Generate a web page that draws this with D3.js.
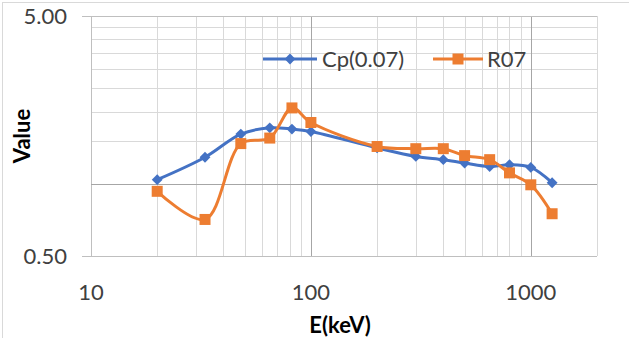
<!DOCTYPE html>
<html>
<head>
<meta charset="utf-8">
<script src="https://cdn.jsdelivr.net/npm/d3@7"></script>
<style>
    body { margin: 0; background: #fff; }
    text { font-family: Lato, "Open Sans", sans-serif; fill: #404040; }
    .title { font-weight: bold; fill: #000; }
</style>
</head>
<body>
<div id="chart"></div>
<script>
// chart values
const energies = [20, 33, 48, 65, 82, 100, 200, 300, 400, 500, 650, 800, 1000, 1250];
const cpValues = [1.04, 1.29, 1.61, 1.71, 1.69, 1.65, 1.41, 1.30, 1.26, 1.22, 1.18, 1.20, 1.17, 1.01];
const r07Values = [0.93, 0.71, 1.47, 1.55, 2.07, 1.80, 1.43, 1.40, 1.40, 1.31, 1.26, 1.11, 0.99, 0.75];
const seriesNames = ["Cp(0.07)", "R07"];
const xTicks = [10, 100, 1000];
const yTicks = [0.5, 5];
const yTickLabels = ["0.50", "5.00"];

const width = 629, height = 338;
const margin = {top: 16, right: 32, bottom: 82, left: 91};

const svg = d3.select("#chart").append("svg")
    .attr("width", width)
    .attr("height", height);

// outer chart border
svg.append("rect")
    .attr("x", 2.5).attr("y", 2.5)
    .attr("width", width + 10).attr("height", height + 10)
    .attr("fill", "none")
    .attr("stroke", "#d9d9d9");

const x = d3.scaleLog().domain([10, 2000]).range([margin.left, width - margin.right]);
const y = d3.scaleLog().domain([0.5, 5]).range([height - margin.bottom, margin.top]);

// minor gridlines, log style (2..9 in every decade)
let xMinor = [];
xTicks.forEach(t => { for (let k = 2; k <= 9; k++) if (t * k <= 2000) xMinor.push(t * k); });
let yMinor = [];
for (let k = 2; k <= 9; k++) yMinor.push(0.5 * k);

const grid = svg.append("g");

grid.selectAll(".xminor").data(xMinor).enter().append("line")
    .attr("x1", d => Math.round(x(d)) + 0.5).attr("x2", d => Math.round(x(d)) + 0.5)
    .attr("y1", y(5)).attr("y2", y(0.5))
    .attr("stroke", "#d9d9d9");

grid.selectAll(".yminor").data(yMinor).enter().append("line")
    .attr("x1", x(10)).attr("x2", x(2000))
    .attr("y1", d => Math.round(y(d)) + 0.5).attr("y2", d => Math.round(y(d)) + 0.5)
    .attr("stroke", "#d9d9d9");

// major lines
grid.selectAll(".xmajor").data(xTicks).enter().append("line")
    .attr("x1", d => Math.round(x(d)) + 0.5).attr("x2", d => Math.round(x(d)) + 0.5)
    .attr("y1", y(5)).attr("y2", y(0.5))
    .attr("stroke", d => d === 10 ? "#bfbfbf" : "#a6a6a6");

grid.selectAll(".ymajor").data(yTicks).enter().append("line")
    .attr("x1", x(10) - 9).attr("x2", x(2000))
    .attr("y1", d => Math.round(y(d)) + 0.5).attr("y2", d => Math.round(y(d)) + 0.5)
    .attr("stroke", "#bfbfbf");

// horizontal axis crosses at 1
grid.append("line")
    .attr("x1", x(10)).attr("x2", x(2000))
    .attr("y1", Math.round(y(1)) + 0.5).attr("y2", Math.round(y(1)) + 0.5)
    .attr("stroke", "#a6a6a6");

// tick labels
svg.selectAll(".xlab").data(xTicks).enter().append("text")
    .attr("x", d => x(d))
    .attr("y", 300)
    .attr("text-anchor", "middle")
    .style("font-size", "22px")
    .text(d => d);

svg.selectAll(".ylab").data(yTicks).enter().append("text")
    .attr("x", 67)
    .attr("y", d => y(d))
    .attr("dy", "0.35em")
    .attr("text-anchor", "end")
    .style("font-size", "22px")
    .text((d, i) => yTickLabels[i]);

// axis titles
svg.append("text")
    .attr("class", "title")
    .attr("x", 340).attr("y", 333)
    .attr("text-anchor", "middle")
    .style("font-size", "22px")
    .text("E(keV)");

svg.append("text")
    .attr("class", "title")
    .attr("transform", "translate(30,136) rotate(-90)")
    .attr("text-anchor", "middle")
    .style("font-size", "22px")
    .text("Value");

// series
const series = [
    {name: seriesNames[0], values: cpValues, color: "#4472c4", symbol: d3.symbolDiamond2, size: 75},
    {name: seriesNames[1], values: r07Values, color: "#ed7d31", symbol: d3.symbolSquare, size: 121}
];

const line = d3.line()
    .x(d => x(d[0]))
    .y(d => y(d[1]))
    .curve(d3.curveCatmullRom.alpha(0.5));

series.forEach(s => {
    let pts = energies.map((e, i) => [e, s.values[i]]);
    svg.append("path")
        .datum(pts)
        .attr("d", line)
        .attr("fill", "none")
        .attr("stroke", s.color)
        .attr("stroke-width", 3)
        .attr("stroke-linejoin", "round");
    svg.append("g").selectAll("path")
        .data(pts)
        .enter()
        .append("path")
        .attr("d", d3.symbol(s.symbol, s.size))
        .attr("transform", d => "translate(" + x(d[0]) + "," + y(d[1]) + ")")
        .attr("fill", s.color);
});

// legend
const legendPos = [263, 433];
const legend = svg.selectAll(".legend").data(series).enter().append("g")
    .attr("transform", (d, i) => "translate(" + legendPos[i] + ",59)");

legend.append("line")
    .attr("x1", 0).attr("x2", (d, i) => i === 0 ? 54 : 50)
    .attr("stroke", d => d.color)
    .attr("stroke-width", 3);

legend.append("path")
    .attr("d", d => d3.symbol(d.symbol, d.size)())
    .attr("transform", (d, i) => "translate(" + (i === 0 ? 27 : 25) + ",0)")
    .attr("fill", d => d.color);

legend.append("text")
    .attr("x", (d, i) => i === 0 ? 59 : 54)
    .attr("dy", "0.35em")
    .style("font-size", "22px")
    .text(d => d.name);
</script>
</body>
</html>
